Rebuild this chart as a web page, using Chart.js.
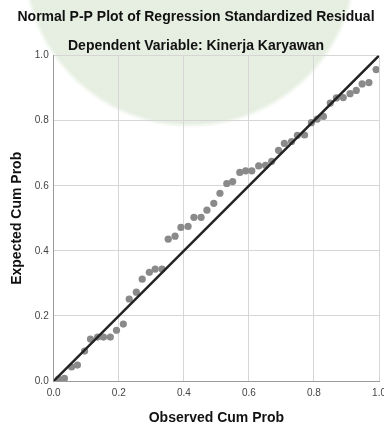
<!DOCTYPE html>
<html>
<head>
<meta charset="utf-8">
<script src="https://cdn.jsdelivr.net/npm/chart.js@4"></script>
<style>
  html, body { margin: 0; padding: 0; overflow: hidden; background: #fff; }
  #wrap {
    position: relative; width: 392px; height: 425px;
    background: radial-gradient(circle 168px at 190px -40px, rgba(205,222,195,0.5) 97%, rgba(205,222,195,0) 100%);
  }
</style>
</head>
<body>
<div id="wrap"><canvas id="pp" width="392" height="425"></canvas></div>
<script>
// Observed cum prob (x) and expected cum prob (y)
const observed = [
  0.015, 0.033, 0.055, 0.073, 0.095, 0.113, 0.135, 0.153, 0.174, 0.193,
  0.214, 0.232, 0.254, 0.272, 0.294, 0.312, 0.333, 0.352, 0.373, 0.391,
  0.413, 0.431, 0.453, 0.471, 0.492, 0.511, 0.532, 0.550, 0.572, 0.590,
  0.609, 0.630, 0.651, 0.670, 0.691, 0.709, 0.731, 0.749, 0.771, 0.792,
  0.810, 0.829, 0.850, 0.869, 0.890, 0.911, 0.930, 0.948, 0.969, 0.991
];
const expected = [
  0.006, 0.008, 0.043, 0.049, 0.092, 0.129, 0.135, 0.135, 0.135, 0.156,
  0.175, 0.252, 0.273, 0.313, 0.334, 0.344, 0.344, 0.436, 0.445, 0.472,
  0.475, 0.503, 0.503, 0.525, 0.546, 0.577, 0.607, 0.613, 0.641, 0.646,
  0.646, 0.661, 0.663, 0.675, 0.709, 0.730, 0.736, 0.755, 0.756, 0.794,
  0.805, 0.813, 0.854, 0.870, 0.871, 0.883, 0.893, 0.913, 0.917, 0.957
];
const diagonal = [0, 1];
const axisTicks = [0, 0.2, 0.4, 0.6, 0.8, 1.0];

const titleText = "Normal P-P Plot of Regression Standardized Residual";
const subtitleText = "Dependent Variable: Kinerja Karyawan";

const fontFamily = "'Liberation Sans', Arial, sans-serif";

const points = observed.map((x, i) => ({ x: x, y: expected[i] }));
const lineData = diagonal.map((v) => ({ x: v, y: v }));

new Chart(document.getElementById("pp").getContext("2d"), {
  type: "scatter",
  data: {
    datasets: [
      {
        type: "line",
        data: lineData,
        borderColor: "#222222",
        borderWidth: 2.5,
        pointRadius: 0,
        order: 0,
      },
      {
        data: points,
        backgroundColor: "#8a8a8a",
        borderWidth: 0,
        pointRadius: 3.6,
        order: 1,
      },
    ],
  },
  options: {
    responsive: false,
    animation: false,
    layout: { padding: { left: 9, right: 9, top: 0, bottom: 0 } },
    plugins: {
      legend: { display: false },
      tooltip: { enabled: false },
      title: {
        display: true,
        text: titleText,
        color: "#111",
        font: { family: fontFamily, size: 14, weight: "bold", lineHeight: 1.2 },
        padding: { top: 9, bottom: 12 },
      },
      subtitle: {
        display: true,
        text: subtitleText,
        color: "#111",
        font: { family: fontFamily, size: 14, weight: "bold", lineHeight: 1.2 },
        padding: { top: 0, bottom: 1 },
      },
    },
    scales: {
      x: {
        type: "linear",
        min: 0,
        max: 1,
        afterBuildTicks: (axis) => { axis.ticks = axisTicks.map((v) => ({ value: v })); },
        ticks: {
          color: "#444",
          font: { family: fontFamily, size: 10 },
          padding: 6,
          maxRotation: 0,
          callback: (v) => Number(v).toFixed(1),
        },
        grid: { color: "#d6d6d6", drawTicks: false },
        border: { color: "#9a9a9a", width: 1 },
        title: {
          display: true,
          text: "Observed Cum Prob",
          color: "#111",
          font: { family: fontFamily, size: 14, weight: "bold", lineHeight: 1.0 },
          padding: { top: 6, bottom: 0 },
        },
      },
      y: {
        type: "linear",
        min: 0,
        max: 1,
        afterBuildTicks: (axis) => { axis.ticks = axisTicks.map((v) => ({ value: v })); },
        ticks: {
          color: "#444",
          font: { family: fontFamily, size: 10 },
          padding: 5,
          callback: (v) => Number(v).toFixed(1),
        },
        grid: { color: "#d6d6d6", drawTicks: false },
        border: { color: "#9a9a9a", width: 1 },
        title: {
          display: true,
          text: "Expected Cum Prob",
          color: "#111",
          font: { family: fontFamily, size: 14, weight: "bold", lineHeight: 1.2 },
          padding: { top: 0, bottom: 4 },
        },
      },
    },
  },
});
</script>
</body>
</html>
